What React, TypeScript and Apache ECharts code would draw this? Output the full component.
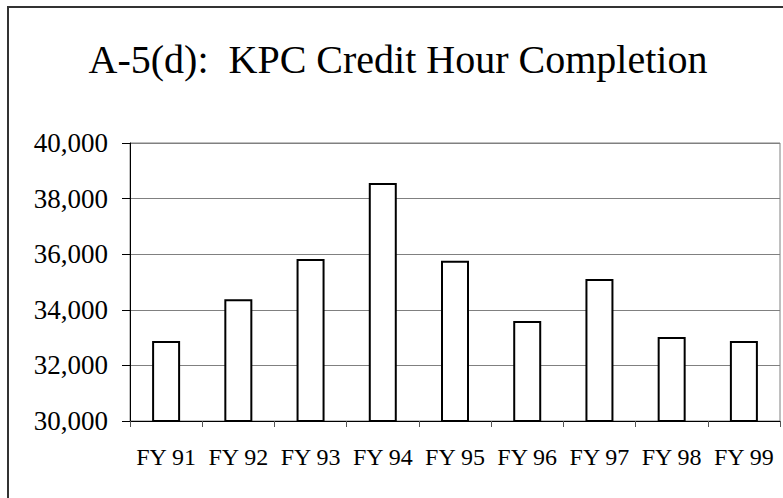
import React, { useEffect, useRef } from "react";
import * as echarts from "echarts";

const categories = ["FY 91", "FY 92", "FY 93", "FY 94", "FY 95", "FY 96", "FY 97", "FY 98", "FY 99"];
const creditHours = [32880, 34380, 35830, 38560, 35760, 33600, 35110, 33020, 32880];
const yMin = 30000;
const yMax = 40000;
const yInterval = 2000;
const titleText = "A-5(d):  KPC Credit Hour Completion";

const serif = "Liberation Serif";

export default function App() {
  const ref = useRef<HTMLDivElement>(null);
  useEffect(() => {
    if (!ref.current) return;
    const chart = echarts.init(ref.current, null, { renderer: "svg" });
    chart.setOption({
      animation: false,
      backgroundColor: "#ffffff",
      grid: {
        left: 130,
        right: 3,
        top: 143,
        bottom: 77,
        show: true,
        borderColor: "#808080",
        borderWidth: 1,
      },
      graphic: [
        {
          type: "rect",
          shape: { x: 8, y: 7, width: 820, height: 560 },
          style: { fill: "none", stroke: "#333333", lineWidth: 2 },
          silent: true,
        },
        {
          type: "text",
          x: 398,
          y: 59,
          style: {
            text: titleText,
            fontFamily: serif,
            fontSize: 40,
            fill: "#000",
            textAlign: "center",
            textVerticalAlign: "middle",
          },
        },
      ],
      xAxis: {
        type: "category",
        data: categories,
        axisLine: { show: true, lineStyle: { color: "#000", width: 1 } },
        axisTick: { show: true, length: 6, lineStyle: { color: "#555" } },
        axisLabel: { fontFamily: serif, fontSize: 24, color: "#000", margin: 24, interval: 0 },
        splitLine: { show: false },
      },
      yAxis: {
        type: "value",
        min: yMin,
        max: yMax,
        interval: yInterval,
        axisLine: { show: true, lineStyle: { color: "#000", width: 1 } },
        axisTick: { show: true, length: 8, lineStyle: { color: "#000" } },
        axisLabel: {
          fontFamily: serif,
          fontSize: 27,
          color: "#000",
          margin: 22,
          formatter: (v: number) => v.toLocaleString("en-US"),
        },
        splitLine: { show: true, lineStyle: { color: "#808080", width: 1 } },
      },
      series: [
        {
          type: "bar",
          data: creditHours,
          barWidth: 28,
          itemStyle: { color: "#ffffff", borderColor: "#000", borderWidth: 2 },
        },
      ],
    });
    return () => chart.dispose();
  }, []);
  return (
    <div
      ref={ref}
      style={{ position: "fixed", left: 0, top: 0, width: 783, height: 498 }}
    />
  );
}
